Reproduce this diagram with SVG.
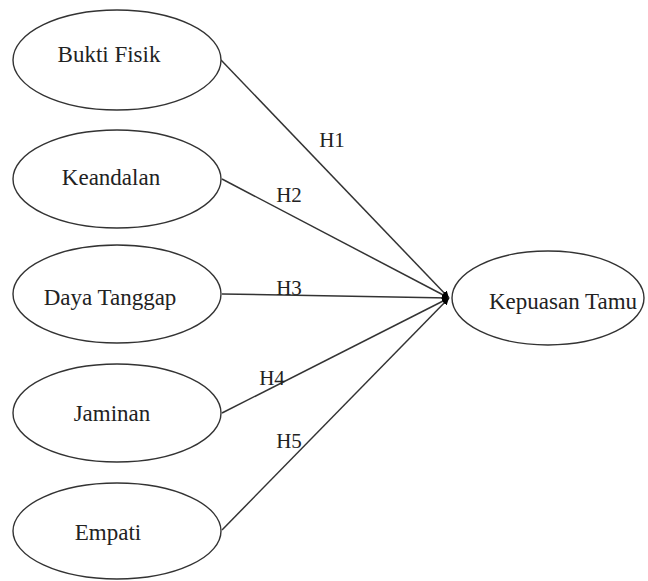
<svg xmlns="http://www.w3.org/2000/svg" width="648" height="581" viewBox="0 0 648 581">
<style>
.node ellipse{fill:#fff;stroke:#333;stroke-width:1.4}
text{font-family:'Liberation Serif','Times New Roman','DejaVu Serif',serif;fill:#222;text-anchor:middle}
.lbl{font-size:23px}
.h{font-size:21px}
.conn line{stroke:#333;stroke-width:1.5;marker-end:url(#ah)}
</style>
<defs>
<marker id="ah" viewBox="0 0 10 10" refX="10" refY="5" markerWidth="7" markerHeight="7" markerUnits="userSpaceOnUse" orient="auto">
<path d="M0,0 L10,5 L0,10 Z" fill="#000"/>
</marker>
</defs>
<rect width="648" height="581" fill="#fff"/>
<g class="conn">
<line x1="221" y1="60" x2="449" y2="298"/>
<line x1="222" y1="179" x2="449" y2="298"/>
<line x1="222" y1="294" x2="449" y2="298"/>
<line x1="222" y1="413" x2="449" y2="298"/>
<line x1="222" y1="530" x2="449" y2="298"/>
<text class="h" x="332" y="147">H1</text>
<text class="h" x="289" y="202">H2</text>
<text class="h" x="289" y="295">H3</text>
<text class="h" x="272" y="385">H4</text>
<text class="h" x="289" y="448">H5</text>
</g>
<g id="bukti-fisik" class="node"><ellipse cx="117" cy="60" rx="104" ry="50"/><text class="lbl" x="109" y="62">Bukti Fisik</text></g>
<g id="keandalan" class="node"><ellipse cx="117" cy="179" rx="104" ry="49"/><text class="lbl" x="111" y="185">Keandalan</text></g>
<g id="daya-tanggap" class="node"><ellipse cx="117" cy="294" rx="104" ry="49"/><text class="lbl" x="110" y="305">Daya Tanggap</text></g>
<g id="jaminan" class="node"><ellipse cx="117" cy="413" rx="104" ry="49"/><text class="lbl" x="112" y="421">Jaminan</text></g>
<g id="empati" class="node"><ellipse cx="117" cy="531" rx="104" ry="48"/><text class="lbl" x="108" y="540">Empati</text></g>
<g id="kepuasan-tamu" class="node"><ellipse cx="548" cy="298" rx="96" ry="47"/><text class="lbl" x="563" y="309">Kepuasan Tamu</text></g>
</svg>
